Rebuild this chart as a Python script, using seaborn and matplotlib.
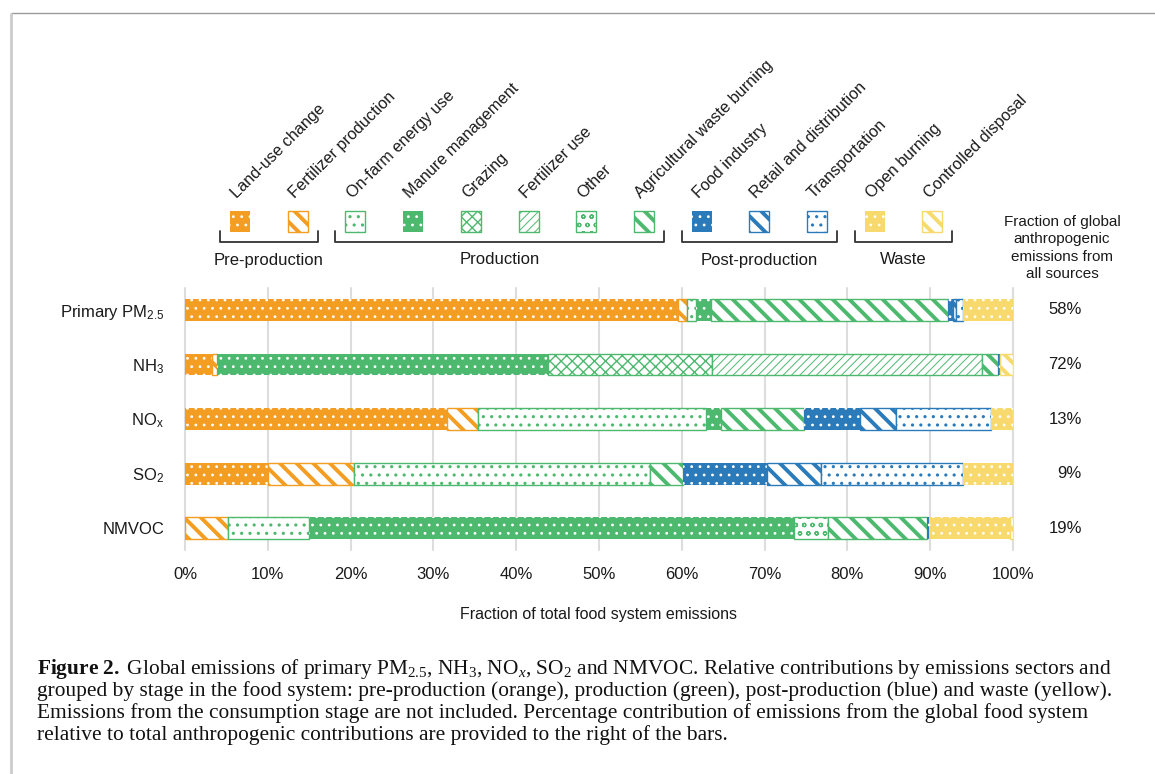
import numpy as np
import pandas as pd
import matplotlib
matplotlib.use("Agg")
import matplotlib.pyplot as plt
import seaborn as sns
from matplotlib.patches import Rectangle
from matplotlib.ticker import PercentFormatter

# ---------------------------------------------------------------- data
pollutants = ["Primary PM2.5", "NH3", "NOx", "SO2", "NMVOC"]
pollutant_labels = [r"Primary PM$_\mathsf{2.5}$", r"NH$_\mathsf{3}$",
                    r"NO$_\mathsf{x}$", r"SO$_\mathsf{2}$", "NMVOC"]

sectors = ["Land-use change", "Fertilizer production", "On-farm energy use",
           "Manure management", "Grazing", "Fertilizer use", "Other",
           "Agricultural waste burning", "Food industry",
           "Retail and distribution", "Transportation", "Open burning",
           "Controlled disposal"]

# share of food-system emissions (%), order: PM2.5, NH3, NOx, SO2, NMVOC
land_use_change            = [59.6, 3.3, 31.6, 10.0, 0.0]
fertilizer_production      = [1.0, 0.6, 3.8, 10.4, 5.2]
on_farm_energy_use         = [1.1, 0.0, 27.5, 35.7, 9.8]
manure_management          = [1.8, 39.9, 1.8, 0.0, 58.5]
grazing                    = [0.0, 19.8, 0.0, 0.0, 0.0]
fertilizer_use             = [0.0, 32.6, 0.0, 0.0, 0.0]
other                      = [0.0, 0.0, 0.0, 0.0, 4.2]
agricultural_waste_burning = [28.7, 2.0, 10.0, 4.1, 11.9]
food_industry              = [0.6, 0.2, 6.8, 10.1, 0.2]
retail_and_distribution    = [0.3, 0.0, 4.4, 6.5, 0.0]
transportation             = [0.9, 0.0, 11.5, 17.2, 0.0]
open_burning               = [6.0, 0.0, 2.6, 6.0, 9.8]
controlled_disposal        = [0.0, 1.6, 0.0, 0.0, 0.4]

# food system share of all anthropogenic emissions (%)
global_share = [58, 72, 13, 9, 19]

stages = ["Pre-production", "Production", "Post-production", "Waste"]
stage_of_sector = [0, 0, 1, 1, 1, 1, 1, 1, 2, 2, 2, 3, 3]

x_ticks = [0.0, 0.1, 0.2, 0.3, 0.4, 0.5, 0.6, 0.7, 0.8, 0.9, 1.0]

series = [land_use_change, fertilizer_production, on_farm_energy_use,
          manure_management, grazing, fertilizer_use, other,
          agricultural_waste_burning, food_industry, retail_and_distribution,
          transportation, open_burning, controlled_disposal]

# ---------------------------------------------------------------- styles
stage_colors = ["#F39D23", "#4DB96E", "#2B7BBA", "#F8D96E"]

# (fill kind, hatch, hatch linewidth)
#   "solid": coloured fill with white pattern
#   "open":  white fill with coloured pattern and outline
sector_style = [
    ("solid", "..", 0.8),
    ("open", "\\\\", 2.8),
    ("open", "..", 1.1),
    ("solid", "..", 0.8),
    ("open", "xxx", 1.0),
    ("open", "////", 0.7),
    ("open", "oo", 0.9),
    ("open", "\\\\", 2.8),
    ("solid", "..", 0.8),
    ("open", "\\\\", 2.8),
    ("open", "..", 1.1),
    ("solid", "..", 0.8),
    ("open", "\\\\", 2.8),
]


def apply_style(patch, k):
    color = stage_colors[stage_of_sector[k]]
    kind, hatch, hlw = sector_style[k]
    if kind == "solid":
        patch.set_facecolor(color)
        patch.set_edgecolor("white")
        patch.set_linewidth(0)
    else:
        patch.set_facecolor("white")
        patch.set_edgecolor(color)
        patch.set_linewidth(1.0)
    patch.set_hatch(hatch)
    if hasattr(patch, "set_hatch_linewidth"):
        patch.set_hatch_linewidth(hlw)


# ---------------------------------------------------------------- figure
sns.set_theme(style="white")
plt.rcParams["font.family"] = ["Liberation Sans", "DejaVu Sans"]
plt.rcParams["mathtext.fontset"] = "custom"
plt.rcParams["mathtext.rm"] = "Liberation Serif"
plt.rcParams["mathtext.it"] = "Liberation Serif:italic"
plt.rcParams["mathtext.bf"] = "Liberation Serif:bold"
plt.rcParams["mathtext.sf"] = "Liberation Sans"
plt.rcParams["hatch.linewidth"] = 0.8

W, H = 1155, 774
fig = plt.figure(figsize=(W / 100, H / 100), dpi=100)
fig.patch.set_facecolor("white")

ax_left, ax_right, ax_top, ax_bottom = 185, 1013, 288, 550
ax = fig.add_axes([ax_left / W, 1 - ax_bottom / H,
                   (ax_right - ax_left) / W, (ax_bottom - ax_top) / H])

shares = np.array(series, dtype=float) / 100.0
lefts = np.vstack([np.zeros(len(pollutants)), np.cumsum(shares, axis=0)[:-1]])

for k, name in enumerate(sectors):
    df = pd.DataFrame({"pollutant": pollutants, "share": shares[k],
                       "left": lefts[k]})
    sub = df[df["share"] > 0]
    n_before = len(ax.patches)
    with plt.rc_context({"hatch.linewidth": sector_style[k][2]}):
        sns.barplot(data=sub, x="share", y="pollutant", order=pollutants,
                    orient="y", width=0.4, errorbar=None, saturation=1,
                    color=stage_colors[stage_of_sector[k]],
                    left=sub["left"].to_numpy(), ax=ax)
        for p in ax.patches[n_before:]:
            apply_style(p, k)

ax.set_xlim(0, 1)
ax.set_ylim(len(pollutants) - 1 + 0.4, -0.4)
ax.set_xticks(x_ticks)
ax.xaxis.set_major_formatter(PercentFormatter(1.0, decimals=0))
ax.set_yticks(range(len(pollutants)))
ax.set_yticklabels(pollutant_labels)
ax.tick_params(axis="x", length=0, pad=12, labelsize=12, colors="#1a1a1a")
ax.tick_params(axis="y", length=0, pad=15, labelsize=12, colors="#1a1a1a")
ax.set_ylabel("")
ax.set_xlabel("Fraction of total food system emissions", fontsize=11.5,
              labelpad=18.5, color="#1a1a1a")
for s in ax.spines.values():
    s.set_visible(False)
ax.grid(axis="x", color="#dddddd", lw=1.5)
ax.grid(axis="y", visible=False)
ax.set_axisbelow(True)
for gl in ax.get_xgridlines():
    gl.set_clip_on(False)

for i, v in enumerate(global_share):
    ax.text(1.0833, i, f"{v}%", ha="right", va="center", fontsize=12,
            color="#1a1a1a")

# ---------------------------------------------------------------- legend / frame overlay
ov = fig.add_axes([0, 0, 1, 1])
ov.set_xlim(0, W)
ov.set_ylim(H, 0)
ov.axis("off")
ov.patch.set_alpha(0)

# frame lines
ov.plot([11, W], [13, 13], color="#9a9a9a", lw=1.0, solid_capstyle="butt")
ov.plot([11, 11], [13, H], color="#cccccc", lw=2.0, solid_capstyle="butt")

sw_x0, sw_dx, sw_top, sw_size = 240, 57.7, 211, 20
centers = [sw_x0 + sw_dx * k for k in range(len(sectors))]
for k, name in enumerate(sectors):
    cx = centers[k]
    r = Rectangle((cx - sw_size / 2, sw_top), sw_size, sw_size + 1)
    ov.add_patch(r)
    apply_style(r, k)
    ov.text(cx - 3, 199, name, rotation=45, rotation_mode="anchor",
            ha="left", va="baseline", fontsize=11.7, color="#1a1a1a")

for g, stage in enumerate(stages):
    idx = [k for k, s in enumerate(stage_of_sector) if s == g]
    x0 = centers[idx[0]] - 20
    x1 = centers[idx[-1]] + 20
    ov.plot([x0, x0, x1, x1], [231, 242, 242, 231], color="#333333", lw=1.3)
    ov.text((x0 + x1) / 2, 260, stage, ha="center", va="center",
            fontsize=12, color="#1a1a1a")

ov.text(1062, 215, "Fraction of global\nanthropogenic\nemissions from\nall sources",
        ha="center", va="top", fontsize=11, linespacing=1.31, color="#1a1a1a")

# ---------------------------------------------------------------- caption
caption = [
    r"$\mathbf{Figure\ 2.}\ $Global emissions of primary PM$_\mathrm{2.5}$, NH$_\mathrm{3}$, "
    r"NO$_\mathit{x}$, SO$_\mathrm{2}$ and NMVOC. Relative contributions by emissions sectors and",
    "grouped by stage in the food system: pre-production (orange), production (green), "
    "post-production (blue) and waste (yellow).",
    "Emissions from the consumption stage are not included. Percentage contribution of "
    "emissions from the global food system",
    "relative to total anthropogenic contributions are provided to the right of the bars.",
]
for j, line in enumerate(caption):
    ov.text(37, 674 + 22 * j, line, ha="left", va="baseline",
            fontsize=15.4, family="Liberation Serif", color="#111111")

fig.savefig("out.png", dpi=100)
